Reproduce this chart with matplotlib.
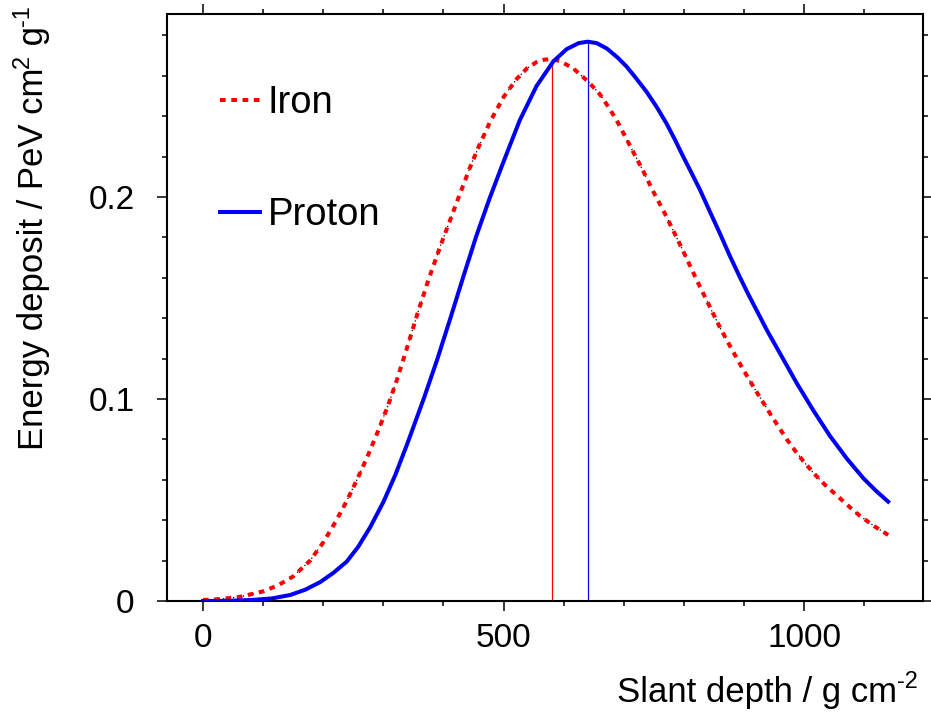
import matplotlib
matplotlib.use("Agg")
import matplotlib.pyplot as plt
from matplotlib.ticker import MultipleLocator, FuncFormatter
from matplotlib.transforms import IdentityTransform

plt.rcParams['font.family'] = ['Liberation Sans', 'DejaVu Sans']

# values
proton_depth = [0, 40, 80, 115, 145, 170, 195, 217, 239, 258, 278, 300, 320, 340, 367,
                389, 411, 433, 455, 477, 500, 527, 555, 583, 605, 625, 640, 655, 672,
                690, 705, 720, 738, 755, 771, 785, 799, 813, 827, 843, 860, 876, 893,
                907, 921, 938, 960, 988, 1015, 1043, 1071, 1099, 1120, 1140]
proton_dep = [0.0, 0.0001, 0.0005, 0.0013, 0.0030, 0.0056, 0.0094, 0.0140, 0.0195,
              0.0268, 0.0365, 0.0490, 0.0625, 0.0780, 0.1000, 0.1190, 0.1395, 0.1605,
              0.1810, 0.1995, 0.2175, 0.2380, 0.2550, 0.2672, 0.2732, 0.2762, 0.2769,
              0.2762, 0.2735, 0.2690, 0.2645, 0.2590, 0.2521, 0.2445, 0.2365, 0.2285,
              0.2200, 0.2118, 0.2035, 0.1930, 0.1820, 0.1712, 0.1605, 0.1520, 0.1440,
              0.1342, 0.1226, 0.1078, 0.0946, 0.0818, 0.0706, 0.0607, 0.0545, 0.0492]

iron_depth = [0, 30, 62, 100, 125, 150, 178, 200, 220, 239, 256, 272, 289, 308, 322,
              339, 356, 375, 394, 411, 428, 444, 458, 478, 500, 522, 540, 555, 568,
              580, 594, 616, 641, 660, 677, 690, 705, 719, 733, 749, 769, 785, 798,
              810, 821, 832, 846, 860, 880, 899, 919, 941, 956, 971, 985, 999, 1017,
              1035, 1050, 1063, 1078, 1093, 1117, 1140]
iron_dep = [0.0005, 0.0010, 0.0021, 0.0048, 0.0078, 0.0122, 0.0200, 0.0290, 0.0390,
            0.0495, 0.0600, 0.0705, 0.0825, 0.0970, 0.1090, 0.1250, 0.1415, 0.1590,
            0.1750, 0.1885, 0.2020, 0.2145, 0.2245, 0.2375, 0.2495, 0.2585, 0.2640,
            0.2668, 0.2680, 0.2683, 0.2673, 0.2637, 0.2571, 0.2510, 0.2435, 0.2370,
            0.2285, 0.2205, 0.2125, 0.2028, 0.1915, 0.1818, 0.1738, 0.1662, 0.1592,
            0.1525, 0.1440, 0.1355, 0.1245, 0.1145, 0.1045, 0.0940, 0.0870, 0.0802,
            0.0745, 0.0692, 0.0630, 0.0575, 0.0535, 0.0500, 0.0460, 0.0422, 0.0370,
            0.0327]

# shower maxima
xmax_depth = [580, 640]
xmax_dep = [0.2683, 0.2769]
xmax_colors = ['#ff0000', '#0000ff']

xlabel_parts = [('Slant depth / g cm', False), ('-2', True)]
ylabel_parts = [('Energy deposit / PeV cm', False), ('2', True), (' g', False), ('-1', True)]

fig = plt.figure(figsize=(9.31, 7.15), dpi=100)
ax = fig.add_axes([0.1794, 0.1594, 0.812, 0.821])

lw = 2.9
ax.plot(iron_depth, iron_dep, color='k', lw=0.9, ls=(0, (1, 7)), zorder=2)
ax.plot(iron_depth, iron_dep, color='#ff0000', lw=lw, ls=(0, (1.4, 1.4)),
        label='Iron', zorder=3)
ax.plot(proton_depth, proton_dep, color='#0000ff', lw=lw, label='Proton', zorder=3)
ax.plot(proton_depth, proton_dep, color='k', lw=0.9, ls=(0, (1, 10)), zorder=4)

ax.vlines(xmax_depth, 0, xmax_dep, colors=xmax_colors, lw=0.9, zorder=2)

ax.set_xlim(-60, 1198)
ax.set_ylim(0, 0.2906)

ax.xaxis.set_major_locator(MultipleLocator(500))
ax.xaxis.set_minor_locator(MultipleLocator(100))
ax.yaxis.set_major_locator(MultipleLocator(0.1))
ax.yaxis.set_minor_locator(MultipleLocator(0.02))
ax.yaxis.set_major_formatter(FuncFormatter(lambda v, p: '0' if abs(v) < 1e-9 else f'{v:g}'))

ax.tick_params(which='both', direction='out', top=True, right=True,
               labeltop=False, labelright=False, width=1.1, labelsize=24)
ax.tick_params(which='major', length=7.5, pad=8)
ax.tick_params(axis='y', which='major', pad=16)
ax.tick_params(which='minor', length=3.8)
for s in ax.spines.values():
    s.set_linewidth(1.5)

ax.legend(loc='upper left', bbox_to_anchor=(0.07, 0.879), frameon=False,
          fontsize=27.5, handlelength=1.05, handletextpad=0.2,
          labelspacing=2.0, borderpad=0, borderaxespad=0)

# axis titles with plain-hyphen superscripts, laid out right to left (pixel coords)
renderer = fig.canvas.get_renderer()
pix = IdentityTransform()


def put_label(parts, x, y, rotation, size=25, sup_size=17, raise_px=14):
    pos = x if rotation == 0 else y
    for txt, sup in reversed(parts):
        fs = sup_size if sup else size
        off = raise_px if sup else 0
        if rotation == 0:
            t = fig.text(pos, y + off, txt, ha='right', va='baseline', fontsize=fs,
                         transform=pix)
            pos = t.get_window_extent(renderer).x0
        else:
            t = fig.text(x - off, pos, txt, ha='right', va='baseline', fontsize=fs,
                         rotation=90, rotation_mode='anchor', transform=pix)
            pos = t.get_window_extent(renderer).y0


put_label(xlabel_parts, 918, 13, 0)
put_label(ylabel_parts, 43, 710, 90)

fig.savefig('out.png', dpi=100)
